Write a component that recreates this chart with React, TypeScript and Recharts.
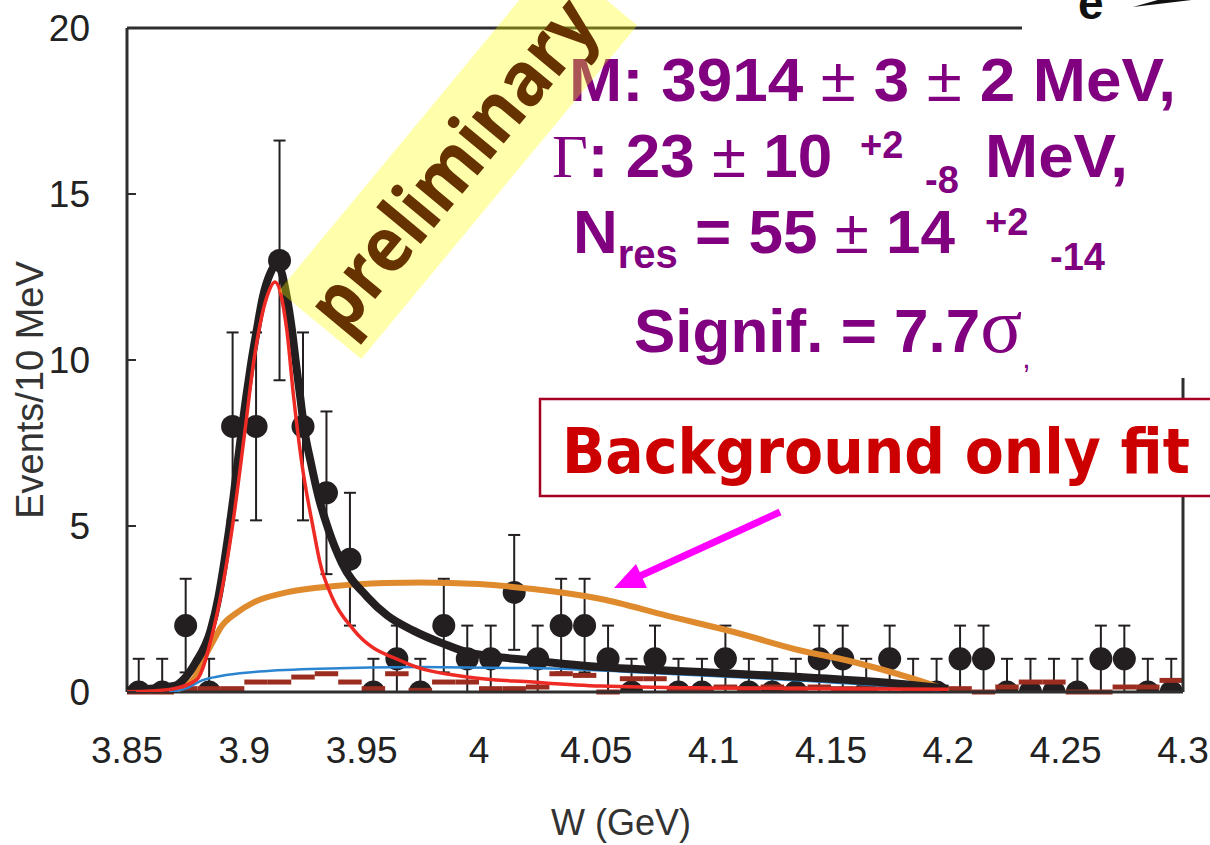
import React from 'react';
import { ComposedChart, Line, Scatter, ErrorBar, XAxis, YAxis, ReferenceLine } from 'recharts';

// 10 MeV bins of W (GeV)
const binCenters = [
  3.855, 3.865, 3.875, 3.885, 3.895, 3.905, 3.915, 3.925, 3.935, 3.945,
  3.955, 3.965, 3.975, 3.985, 3.995, 4.005, 4.015, 4.025, 4.035, 4.045,
  4.055, 4.065, 4.075, 4.085, 4.095, 4.105, 4.115, 4.125, 4.135, 4.145,
  4.155, 4.165, 4.175, 4.185, 4.195, 4.205, 4.215, 4.225, 4.235, 4.245,
  4.255, 4.265, 4.275, 4.285, 4.295,
];
const eventCounts = [
  0, 0, 2, 0, 8, 8, 13, 8, 6, 4,
  0, 1, 0, 2, 1, 1, 3, 1, 2, 2,
  1, 0, 1, 0, 0, 1, 0, 0, 0, 1,
  1, 0, 1, 0, 0, 1, 1, 0, 0, 0,
  0, 1, 1, 0, 0,
];
const errLow = [
  0, 0, 1.41, 0, 2.83, 2.83, 3.61, 2.83, 2.45, 2,
  0, 1, 0, 1.41, 1, 1, 1.73, 1, 1.41, 1.41,
  1, 0, 1, 0, 0, 1, 0, 0, 0, 1,
  1, 0, 1, 0, 0, 1, 1, 0, 0, 0,
  0, 1, 1, 0, 0,
];
const errHigh = [
  1, 1, 1.41, 1, 2.83, 2.83, 3.61, 2.83, 2.45, 2,
  1, 1, 1, 1.41, 1, 1, 1.73, 1, 1.41, 1.41,
  1, 1, 1, 1, 1, 1, 1, 1, 1, 1,
  1, 1, 1, 1, 1, 1, 1, 1, 1, 1,
  1, 1, 1, 1, 1,
];
// sideband (non-exclusive) background histogram per bin
const sidebandLevels = [
  0, 0, 0.1, 0.1, 0.1, 0.3, 0.3, 0.45, 0.55, 0.3,
  0.1, 0.55, 0.05, 0.3, 0.3, 0.1, 0.1, 0.15, 0.55, 0.5,
  0, 0.4, 0.4, 0.05, 0.05, 0.15, 0.1, 0.15, 0.1, 0.15,
  0.1, 0.1, 0.15, 0.1, 0.1, 0.1, 0, 0.15, 0.3, 0.3,
  0, 0, 0.15, 0.15, 0.35,
];
const binHalfWidth = 0.005;

// signal + background fit (total)
const totalFitW = [
  3.85, 3.86, 3.87, 3.875, 3.879, 3.8857, 3.889, 3.8914, 3.8935, 3.8954,
  3.8971, 3.8989, 3.9008, 3.9029, 3.9053, 3.9079, 3.911, 3.914, 3.9181, 3.9203,
  3.922, 3.9238, 3.9256, 3.9284, 3.9316, 3.9359, 3.9416, 3.9523, 3.961, 3.972,
  3.985, 3.995, 4.023, 4.052, 4.08, 4.109, 4.137, 4.17, 4.2,
];
const totalFitY = [
  0.05, 0.1, 0.18, 0.45, 0.86, 1.87, 2.87, 3.88, 4.88, 5.88,
  6.89, 7.89, 8.89, 9.9, 10.9, 11.9, 12.6, 12.9, 11.9, 10.9,
  9.9, 8.89, 7.89, 6.89, 5.88, 4.88, 3.88, 2.87, 2.3, 1.85,
  1.45, 1.2, 0.95, 0.75, 0.65, 0.55, 0.45, 0.3, 0.1,
];
// resonance component
const signalW = [
  3.85, 3.86, 3.87, 3.8797, 3.8868, 3.8947, 3.9003, 3.9039, 3.9096, 3.9131,
  3.9181, 3.921, 3.9245, 3.9295, 3.9323, 3.9373, 3.9466, 3.968, 3.995, 4.023,
  4.052, 4.1, 4.15, 4.2,
];
const signalY = [
  0.01, 0.03, 0.1, 0.37, 1.87, 4.88, 7.89, 9.9, 11.9, 12.35,
  10.9, 8.89, 6.89, 4.88, 3.88, 2.87, 1.87, 0.9, 0.45, 0.3,
  0.18, 0.12, 0.1, 0.08,
];
// background component of the signal fit
const bkgW = [3.868, 3.875, 3.882, 3.89, 3.904, 3.932, 3.975, 4.023, 4.08, 4.137, 4.17, 4.2];
const bkgY = [0, 0.1, 0.35, 0.48, 0.6, 0.7, 0.75, 0.72, 0.55, 0.35, 0.2, 0.02];
// background-only fit
const bkgOnlyW = [
  3.868, 3.875, 3.879, 3.882, 3.887, 3.89, 3.897, 3.904, 3.918, 3.94,
  3.96, 3.975, 4.0, 4.023, 4.052, 4.08, 4.109, 4.137, 4.157, 4.185, 4.2,
];
const bkgOnlyY = [
  0, 0.2, 0.45, 0.9, 1.57, 1.95, 2.4, 2.7, 3.0, 3.2,
  3.28, 3.3, 3.25, 3.1, 2.8, 2.3, 1.8, 1.25, 0.95, 0.4, 0.05,
];

const xTicks = [3.85, 3.9, 3.95, 4.0, 4.05, 4.1, 4.15, 4.2, 4.25, 4.3];
const yTicks = [0, 5, 10, 15, 20];
const xRange = [3.85, 4.3];
const yRange = [0, 20];

const zip = (w: number[], v: number[]) => w.map((x, i) => ({ w: x, v: v[i] }));

const pointData = binCenters.map((w, i) => ({ w, v: eventCounts[i], err: [errLow[i], errHigh[i]] }));
const sidebandData = binCenters.map((w, i) => ({ w, v: sidebandLevels[i], half: binHalfWidth }));
const totalFit = zip(totalFitW, totalFitY);
const signalFit = zip(signalW, signalY);
const bkgFit = zip(bkgW, bkgY);
const bkgOnlyFit = zip(bkgOnlyW, bkgOnlyY);

const SANS = "'Liberation Sans', Arial, Helvetica, sans-serif";
const SERIF = "'Liberation Serif', 'Times New Roman', serif";
const INK = '#231f20';
const FRAME = '#2e2e2e';

const XTick = (props: any) => {
  const { x, y, payload } = props;
  return (
    <text x={x} y={y + 71} textAnchor="middle" fontSize={37} fontFamily={SANS} fill="#222">
      {String(payload.value)}
    </text>
  );
};

const YTick = (props: any) => {
  const { x, y, payload } = props;
  return (
    <g>
      <line x1={x} x2={x + 9} y1={y} y2={y} stroke={FRAME} strokeWidth={2} />
      <text x={x - 37} y={y + 13} textAnchor="end" fontSize={37} fontFamily={SANS} fill="#222">
        {String(payload.value)}
      </text>
    </g>
  );
};

const XTitle = (props: any) => {
  const vb = props.viewBox || { x: 127, y: 692, width: 1056 };
  return (
    <text x={vb.x + vb.width / 2 - 34} y={vb.y + 143} textAnchor="middle" fontSize={36} fontFamily={SANS} fill="#333">
      W (GeV)
    </text>
  );
};

const YTitle = (props: any) => {
  const vb = props.viewBox || { x: 0, y: 28, height: 664 };
  const cx = 30;
  const cy = vb.y + vb.height / 2 + 30;
  return (
    <text
      x={cx}
      y={cy}
      transform={`rotate(-90 ${cx} ${cy})`}
      textAnchor="middle"
      dominantBaseline="central"
      fontSize={38}
      fontFamily={SANS}
      fill="#333"
    >
      Events/10 MeV
    </text>
  );
};

const Dot = (props: any) => <circle cx={props.cx} cy={props.cy} r={11.5} fill={INK} />;
const NoMark = () => <g />;

const Annotations = () => (
  <svg
    width={1210}
    height={845}
    style={{ position: 'absolute', left: 0, top: 0, pointerEvents: 'none' }}
  >
    {/* white backing of the fit-result box */}
    <rect x={1022} y={0} width={188} height={378} fill="#fff" />

    {/* Feynman-diagram fragment */}
    <text x={1078} y={19} fontSize={46} fontWeight="bold" fontFamily={SANS} fill="#111">e</text>
    <polygon points="1133,7 1200,-1 1200,-12" fill="#111" />

    {/* fit results */}
    <g fill="#800080" fontFamily={SANS} fontWeight="bold" fontSize={62}>
      <text x={569} y={101} textLength={607} lengthAdjust="spacingAndGlyphs">
        <tspan>{'M: 3914 '}</tspan>
        <tspan fontWeight="normal">±</tspan>
        <tspan>{' 3 '}</tspan>
        <tspan fontWeight="normal">±</tspan>
        <tspan>{' 2 MeV,'}</tspan>
      </text>
      <text x={552} y={177}>
        <tspan fontFamily={SERIF} fontWeight="normal">Γ</tspan>
        <tspan>{': 23 '}</tspan>
        <tspan fontWeight="normal">±</tspan>
        <tspan>{' 10'}</tspan>
        <tspan x={860} y={158} fontSize={38}>+2</tspan>
        <tspan x={925} y={193} fontSize={38}>-8</tspan>
        <tspan x={985} y={177} textLength={143} lengthAdjust="spacingAndGlyphs">MeV,</tspan>
      </text>
      <text x={573} y={253}>
        <tspan>N</tspan>
        <tspan y={268} fontSize={40}>res</tspan>
        <tspan y={253}>{' = 55 '}</tspan>
        <tspan fontWeight="normal">±</tspan>
        <tspan>{' 14'}</tspan>
        <tspan x={985} y={235} fontSize={38}>+2</tspan>
        <tspan x={1050} y={270} fontSize={38}>-14</tspan>
      </text>
      <text x={634} y={352}>
        <tspan>{'Signif. = 7.7'}</tspan>
        <tspan fontFamily={SERIF} fontWeight="normal" fontSize={78}>σ</tspan>
        <tspan y={368} fontSize={30} fontWeight="normal">,</tspan>
      </text>
    </g>

    {/* background-only callout */}
    <rect x={540} y={399} width={700} height={97} fill="#fff" stroke="#a50021" strokeWidth={2.5} />
    <text
      x={562}
      y={473}
      fontSize={63}
      fontWeight="bold"
      fontFamily="'DejaVu Sans Condensed', 'DejaVu Sans', sans-serif"
      fill="#cc0000"
      textLength={628}
      lengthAdjust="spacingAndGlyphs"
    >
      Background only fit
    </text>
    <line x1={780} y1={512} x2={640} y2={576} stroke="#ff00ff" strokeWidth={7} />
    <polygon points="614,588 636,564 647,588" fill="#ff00ff" />

    {/* preliminary band */}
    <g transform="translate(320,325) rotate(-50.4)">
      <rect x={0} y={-53.5} width={433} height={107} fill="rgba(255,255,0,0.33)" />
      <text
        x={6}
        y={26}
        fontSize={76}
        fontWeight="bold"
        fontFamily="'Comic Sans MS', 'Noto Sans', sans-serif"
        fill="#663300"
        textLength={404}
        lengthAdjust="spacingAndGlyphs"
      >
        preliminary
      </text>
    </g>
  </svg>
);

export default function App() {
  return (
    <div style={{ position: 'absolute', left: 0, top: 0, width: 1210, height: 845, background: '#fff' }}>
      <ComposedChart
        width={1210}
        height={845}
        margin={{ top: 28, right: 27, bottom: 0, left: 0 }}
      >
        <XAxis
          dataKey="w"
          type="number"
          domain={xRange}
          ticks={xTicks}
          allowDataOverflow
          height={153}
          tickSize={0}
          tickMargin={0}
          tick={<XTick />}
          axisLine={false}
          label={<XTitle />}
        />
        <YAxis
          type="number"
          domain={yRange}
          ticks={yTicks}
          allowDataOverflow
          width={127}
          tickSize={0}
          tickMargin={0}
          tick={<YTick />}
          axisLine={false}
          label={<YTitle />}
        />

        {/* plot frame */}
        <ReferenceLine x={xRange[0]} stroke={FRAME} strokeWidth={3} ifOverflow="extendDomain" />
        <ReferenceLine x={xRange[1]} stroke={FRAME} strokeWidth={3} ifOverflow="extendDomain" />
        <ReferenceLine y={yRange[0]} stroke={FRAME} strokeWidth={3} ifOverflow="extendDomain" />
        <ReferenceLine y={yRange[1]} stroke={FRAME} strokeWidth={3} ifOverflow="extendDomain" />

        <Scatter data={pointData} dataKey="v" shape={<Dot />} isAnimationActive={false} zIndex={300}>
          <ErrorBar dataKey="err" direction="y" width={6} stroke={INK} strokeWidth={2} zIndex={290} />
        </Scatter>
        <Scatter data={sidebandData} dataKey="v" shape={<NoMark />} isAnimationActive={false} zIndex={320}>
          <ErrorBar dataKey="half" direction="x" width={0} stroke="#9b2d20" strokeWidth={5} zIndex={320} />
        </Scatter>
        <Line data={bkgOnlyFit} dataKey="v" type="monotone" stroke="#e08a2e" strokeWidth={6} dot={false} isAnimationActive={false} zIndex={400} />
        <Line data={bkgFit} dataKey="v" type="monotone" stroke="#2a84cf" strokeWidth={2.5} dot={false} isAnimationActive={false} zIndex={410} />
        <Line data={totalFit} dataKey="v" type="monotone" stroke={INK} strokeWidth={8} dot={false} isAnimationActive={false} zIndex={420} />
        <Line data={signalFit} dataKey="v" type="monotone" stroke="#ee2a24" strokeWidth={3.5} dot={false} isAnimationActive={false} zIndex={430} />
      </ComposedChart>
      <Annotations />
    </div>
  );
}
